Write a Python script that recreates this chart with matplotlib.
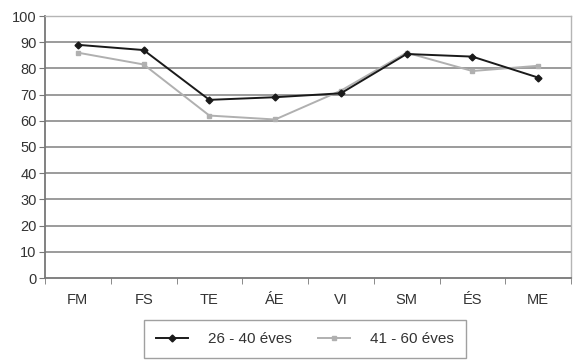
import matplotlib
matplotlib.use("Agg")
import matplotlib.pyplot as plt
import numpy as np

categories = ["FM", "FS", "TE", "ÁE", "VI", "SM", "ÉS", "ME"]
age_26_40 = [89, 87, 68, 69, 70.5, 85.5, 84.5, 76.5]
age_41_60 = [86, 81.5, 62, 60.5, 71.5, 86, 79, 81]
series_labels = ["26 - 40 éves", "41 - 60 éves"]
y_ticks = list(range(0, 101, 10))

plt.rcParams["font.family"] = ["Liberation Sans", "DejaVu Sans"]

fig = plt.figure(figsize=(5.75, 3.61), dpi=100)
ax = fig.add_axes([45 / 575, 1 - 278 / 361, 526 / 575, 262 / 361])

x = np.arange(len(categories))
ax.set_xlim(-0.5, len(categories) - 0.5)
ax.set_ylim(0, 100)

for y in y_ticks[1:]:
    ax.axhline(y, color="#8a8a8a", lw=1.2, zorder=1)

ax.plot(x, age_26_40, color="#1a1a1a", lw=1.4, marker="D", ms=3.5,
        label=series_labels[0], zorder=3)
ax.plot(x, age_41_60, color="#b0b0b0", lw=1.4, marker="s", ms=3.5,
        label=series_labels[1], zorder=2)

ax.set_yticks(y_ticks)
ax.set_xticks(x)
ax.set_xticklabels(categories)
ax.set_xticks(np.arange(-0.5, len(categories), 1.0), minor=True)
ax.tick_params(axis="x", which="major", length=0, pad=11, labelsize=10.5,
               colors="#333333")
ax.tick_params(axis="x", which="minor", length=4, color="#777777")
ax.tick_params(axis="y", length=4, color="#777777", labelsize=10.5,
               colors="#333333", pad=2)

for side in ["left", "bottom"]:
    ax.spines[side].set_color("#777777")
    ax.spines[side].set_linewidth(1.3)
for side in ["right", "top"]:
    ax.spines[side].set_color("#b5b5b5")
    ax.spines[side].set_linewidth(1.0)

leg = fig.legend(loc="center", bbox_to_anchor=(305 / 575, 1 - 339 / 361),
                 ncol=2, frameon=True, fancybox=False, fontsize=11,
                 handlelength=2.1, handletextpad=1.3, columnspacing=1.7,
                 borderpad=0.8, borderaxespad=0)
leg.get_frame().set_edgecolor("#888888")
leg.get_frame().set_linewidth(1.0)
for t in leg.get_texts():
    t.set_color("#333333")

fig.savefig("out.png", dpi=100)
